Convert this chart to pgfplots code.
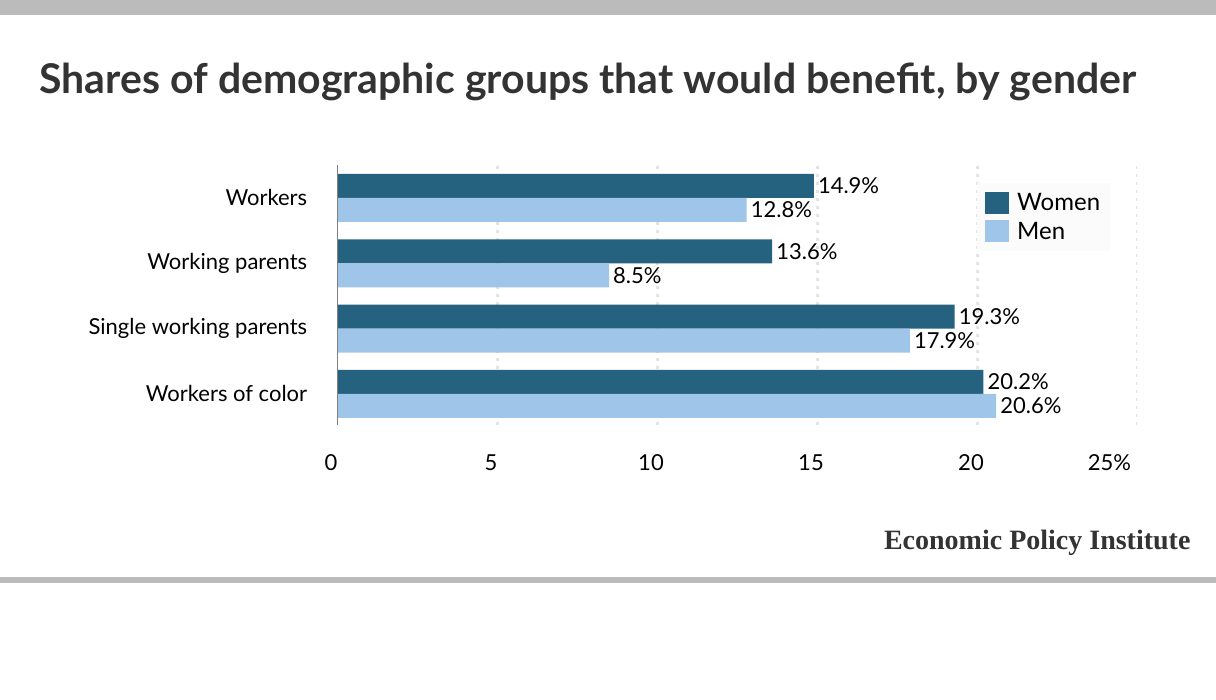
\documentclass[border=0pt]{standalone}
\usepackage{pgfplots}
\pgfplotsset{compat=1.18}
\usepackage{fontspec}
\setmainfont{Lato}
\newfontfamily\epifont{Liberation Serif}
\definecolor{women}{HTML}{25627F}
\definecolor{men}{HTML}{9FC5E8}
\definecolor{bar}{HTML}{BBBBBB}
\definecolor{ttl}{HTML}{333333}
\begin{document}
\begin{tikzpicture}[x=1pt,y=1pt]
\path[fill=white] (0,0) rectangle (1216,-700);
\fill[bar] (0,0) rectangle (1216,-15);
\fill[bar] (0,-577) rectangle (1216,-583);
\node[anchor=west,font=\fontsize{41}{46}\selectfont\bfseries,text=ttl] at (36,-82) {Shares of demographic groups that would benefit, by gender};
\node[anchor=east,font=\epifont\fontsize{28}{30}\selectfont\bfseries,text=ttl] at (1194,-543) {Economic Policy Institute};
\begin{axis}[at={(337pt,-425pt)},anchor=south west,scale only axis,
 width=800pt,height=260pt,
 xmin=0,xmax=25,ymin=-0.475,ymax=3.505,
 axis line style={draw=none},
 /pgf/number format/assume math mode=true,
 xtick={0,5,10,15,20,25},xticklabels={0,5,10,15,20,\llap{25\%}},
 tick style={draw=none},
 ytick={0,1,2,3},yticklabels={Workers of color,Single working parents,Working parents,Workers},
 ticklabel style={font=\fontsize{22}{26}\selectfont},
 xticklabel style={yshift=-26pt,xshift=-6pt},
 yticklabel style={xshift=-22pt},
 xbar,bar width=24pt,
 nodes near coords={\pgfmathprintnumber[fixed,precision=1,fixed zerofill,assume math mode=true]{\pgfplotspointmeta}\%},
 point meta=x,
 every node near coord/.append style={font=\fontsize{22}{26}\selectfont,text=black,inner xsep=4pt},
 legend style={at={(0.80,0.93)},anchor=north west,draw=none,fill=gray!3,font=\fontsize{24}{28}\selectfont,row sep=6pt,inner sep=8pt},
 legend cell align=left,
 legend image code/.code={\fill[#1] (0pt,-11pt) rectangle (24pt,11pt);},
 ]
\pgfplotsinvokeforeach{5,10,15,20,25}{
 \draw[gray!22,line width=3pt,dash pattern=on 3pt off 5pt] (axis cs:#1,-0.475) -- (axis cs:#1,3.505);}
\addplot[fill=women,draw=none,bar shift=12pt] coordinates {(14.9,3) (13.6,2) (19.3,1) (20.2,0)};
\addplot[fill=men,draw=none,bar shift=-12pt] coordinates {(12.8,3) (8.5,2) (17.9,1) (20.6,0)};
\legend{\hspace{6pt}Women,\hspace{6pt}Men}
\draw[gray,line width=1.5pt] (axis cs:0,-0.475) -- (axis cs:0,3.505);
\end{axis}
\end{tikzpicture}
\end{document}
